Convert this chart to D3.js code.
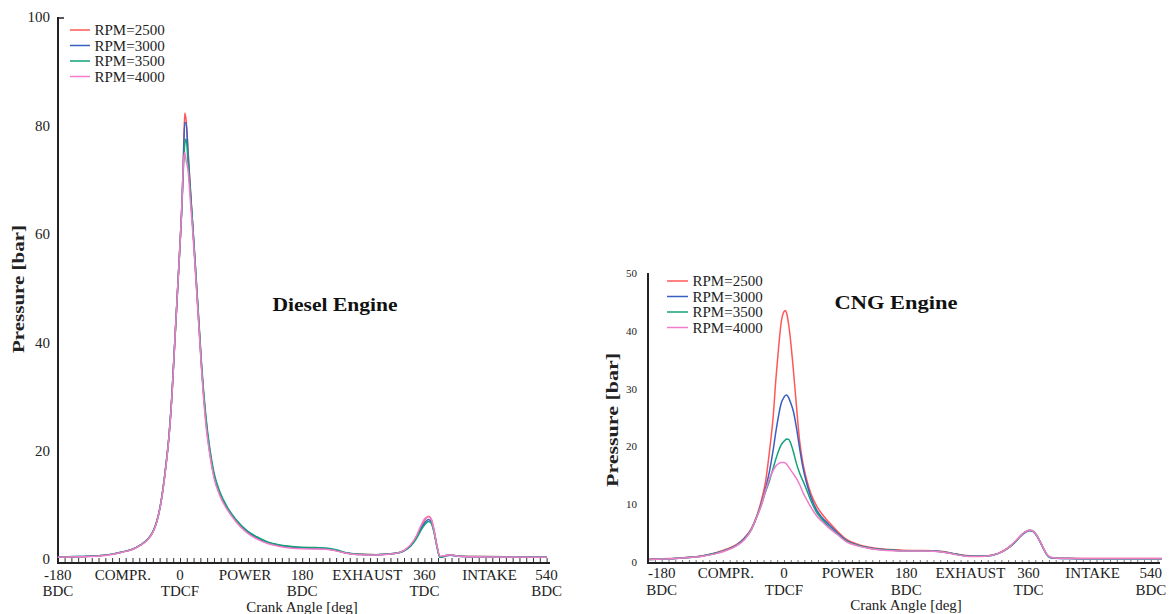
<!DOCTYPE html>
<html>
<head>
<meta charset="utf-8">
<script src="https://cdn.jsdelivr.net/npm/d3@7"></script>
<style>
body { margin: 0; background: #fff; }
svg { display: block; }
</style>
</head>
<body>
<svg width="1172" height="614"></svg>
<script>

// ---- data ----

const rpm_labels = ["RPM=2500", "RPM=3000", "RPM=3500", "RPM=4000"];

const angle_ticks = [-180, 0, 180, 360, 540];
const angle_tick_values = ["-180", "0", "180", "360", "540"];
const angle_tick_names = ["BDC", "TDCF", "BDC", "TDC", "BDC"];

const stroke_angles = [-90, 90, 270, 450];
const stroke_names = ["COMPR.", "POWER", "EXHAUST", "INTAKE"];

const diesel_pressure_ticks = [0, 20, 40, 60, 80, 100];
const cng_pressure_ticks = [0, 10, 20, 30, 40, 50];

const diesel_angle = [-180, -150, -120, -100, -85, -70, -58, -48, -40, -34, -29, -25, -21, -16, -12, -9, -6, -3, 0,
    3, 5, 7, 9, 12, 15, 19, 22, 25, 28, 32, 38, 44, 50, 59, 70, 83, 98, 113, 130, 147, 165, 180,
    200, 215, 230, 245, 260, 290, 315, 330, 340, 348, 355, 361, 366, 370, 374, 378, 383, 390, 398, 410, 440, 480, 540];

const diesel_2500 = [0.3, 0.4, 0.6, 0.9, 1.3, 1.8, 2.6, 3.6, 5.0, 7.0, 9.8, 13, 17, 23, 30, 37, 44, 51, 58,
    66, 74, 82.3, 81, 75, 69, 61, 55, 49, 43, 35, 25.5, 19.5, 15.3, 11.8, 9.2, 7.0, 5.1, 3.9, 3.0, 2.5, 2.2, 2.0,
    1.95, 1.9, 1.6, 1.1, 0.9, 0.8, 1.0, 1.6, 2.6, 4.1, 6.0, 7.3, 7.9, 7.4, 5.5, 2.8, 0.4, 0.5, 0.8, 0.5, 0.45, 0.4, 0.35];

const diesel_3000 = [0.35, 0.45, 0.6, 0.9, 1.3, 1.8, 2.6, 3.6, 5.0, 7.0, 9.8, 13, 17, 23, 30, 37, 44, 51, 58,
    66, 73.5, 80.5, 80.5, 74.5, 68.5, 61, 55, 49, 43, 35, 26, 19.8, 15.5, 12.0, 9.3, 7.1, 5.2, 4.0, 3.0, 2.5, 2.2, 2.05,
    2.0, 1.9, 1.55, 1.1, 0.85, 0.8, 1.0, 1.5, 2.5, 3.9, 5.6, 6.8, 7.3, 6.9, 5.2, 2.6, 0.3, 0.5, 0.7, 0.5, 0.4, 0.4, 0.35];

const diesel_3500 = [0.35, 0.45, 0.6, 0.9, 1.3, 1.8, 2.6, 3.6, 5.0, 7.0, 9.8, 13, 17, 23, 30, 37, 44, 51, 58,
    65.5, 72, 76.5, 77.5, 73, 68, 61, 55.5, 49.5, 43.5, 35.5, 26.5, 20.3, 16, 12.3, 9.5, 7.2, 5.3, 4.1, 3.1, 2.6, 2.3, 2.15,
    2.1, 2.05, 1.7, 1.15, 0.9, 0.8, 1.0, 1.5, 2.4, 3.7, 5.3, 6.4, 6.9, 6.6, 5.0, 2.5, 0.3, 0.6, 0.8, 0.5, 0.45, 0.4, 0.35];

const diesel_4000 = [0.3, 0.4, 0.55, 0.85, 1.25, 1.75, 2.55, 3.5, 4.9, 6.9, 9.7, 12.8, 16.8, 22.8, 29.8, 36.8, 44, 51, 58,
    66, 73, 75, 73.5, 71.5, 66.5, 60, 54.5, 48.5, 42.5, 34.5, 25, 19.2, 15.0, 11.6, 9.0, 6.8, 4.9, 3.7, 2.8, 2.3, 2.0, 1.9,
    1.85, 1.8, 1.5, 1.05, 0.85, 0.75, 0.95, 1.6, 2.7, 4.2, 6.2, 7.5, 7.8, 7.3, 5.4, 2.7, 0.5, 0.6, 0.8, 0.5, 0.4, 0.35, 0.3];

const cng_angle = [-198, -180, -150, -120, -100, -85, -70, -58, -48, -40, -33, -27, -21, -16, -12, -8, -4, 0,
    2, 4, 7, 10, 14, 18, 23, 28, 33, 40, 48, 56, 66, 78, 92, 110, 128, 146, 165, 185,
    205, 220, 235, 250, 265, 280, 300, 315, 330, 340, 348, 355, 361, 366, 371, 376, 381, 386, 392, 400, 420, 460, 500, 540, 556];

const cng_2500 = [0.5, 0.55, 0.75, 1.1, 1.6, 2.2, 3.0, 4.2, 5.8, 8.0, 10.8, 14.0, 19.5, 25, 31.5, 37, 41.5, 43.3,
    43.5, 43.0, 41, 38, 33, 27.5, 21, 17, 14.4, 11.7, 9.7, 8.3, 6.9, 5.4, 3.9, 3.0, 2.5, 2.25, 2.1, 2.0,
    2.0, 1.95, 1.8, 1.45, 1.15, 1.05, 1.1, 1.5, 2.5, 3.5, 4.5, 5.2, 5.5, 5.4, 4.8, 3.8, 2.6, 1.5, 0.8, 0.7, 0.65, 0.6, 0.6, 0.6, 0.6];

const cng_3000 = [0.45, 0.5, 0.7, 1.05, 1.55, 2.1, 2.9, 4.1, 5.7, 7.8, 10.2, 12.8, 15.9, 19.3, 22.5, 25.3, 27.5, 28.5,
    28.8, 28.9, 28.4, 27.5, 26.0, 23.5, 19.7, 16.3, 13.8, 11.1, 9.0, 7.7, 6.5, 5.1, 3.7, 2.85, 2.4, 2.15, 2.0, 1.95,
    1.95, 1.9, 1.75, 1.4, 1.1, 1.0, 1.05, 1.45, 2.4, 3.4, 4.4, 5.1, 5.4, 5.3, 4.7, 3.7, 2.5, 1.4, 0.75, 0.65, 0.6, 0.55, 0.55, 0.55, 0.55];

const cng_3500 = [0.45, 0.5, 0.7, 1.05, 1.5, 2.05, 2.85, 4.0, 5.6, 7.9, 10.0, 12.2, 14.2, 16.2, 17.8, 19.2, 20.3, 20.9,
    21.1, 21.3, 21.2, 20.5, 19.0, 17.2, 15.4, 14.0, 12.6, 10.5, 8.6, 7.4, 6.1, 4.9, 3.6, 2.8, 2.35, 2.1, 2.0, 1.95,
    1.95, 1.9, 1.75, 1.4, 1.1, 1.0, 1.05, 1.45, 2.4, 3.4, 4.5, 5.2, 5.5, 5.4, 4.8, 3.8, 2.6, 1.5, 0.8, 0.7, 0.6, 0.55, 0.55, 0.55, 0.55];

const cng_4000 = [0.45, 0.5, 0.7, 1.0, 1.45, 2.0, 2.8, 3.9, 5.6, 7.8, 9.9, 12.4, 14.5, 15.8, 16.6, 17.0, 17.2, 17.2,
    17.1, 16.9, 16.4, 15.9, 15.2, 14.5, 13.4, 12.0, 10.9, 9.4, 8.0, 7.0, 5.9, 4.8, 3.5, 2.75, 2.3, 2.05, 1.95, 1.9,
    1.9, 1.85, 1.7, 1.35, 1.05, 0.95, 1.05, 1.45, 2.45, 3.5, 4.5, 5.2, 5.5, 5.4, 4.8, 3.8, 2.6, 1.5, 0.85, 0.7, 0.6, 0.6, 0.6, 0.6, 0.6];


const vis = {

    refs : {

        svg : "svg"

    },

    sels : {

        svg : null

    },

    params : {

        font : '"Liberation Serif", "Times New Roman", serif',
        colors : ["#ff5757", "#3a5fc2", "#13a17a", "#f17cc9"],
        ink : "#222",

        panels : [

            {
                name : "Diesel Engine",
                angle : diesel_angle,
                series : [diesel_2500, diesel_3000, diesel_3500, diesel_4000],
                y_ticks : diesel_pressure_ticks,
                y_domain : [0, 100],
                y_range : [559, 17],
                x_range : [57.8, 546.6],
                axis_x : 58,
                axis_top : 17,
                base_y : 563,
                x_line : [58, 550],
                minor : [-180, 540],
                minor_len : 5,
                minor_color : "#333",
                top_tick : 6,
                y_font : 15,
                y_pad : 8,
                y_title : { x : 18, y : 289, len : 128 },
                title_pos : { x : 335, y : 305, len : 125 },
                legend : { x : 70, y : 30, gap : 15.5, line : 20 },
                rows : [575, 591, 607],
                x_title : 302,
                stroke_shift : 4
            },

            {
                name : "CNG Engine",
                angle : cng_angle,
                series : [cng_2500, cng_3000, cng_3500, cng_4000],
                y_ticks : cng_pressure_ticks,
                y_domain : [0, 50],
                y_range : [562, 273],
                x_range : [661.7, 1150.8],
                axis_x : 648,
                axis_top : 273,
                base_y : 563,
                x_line : [648, 1160],
                minor : [-190, 550],
                minor_len : 3,
                minor_color : "#777",
                top_tick : 0,
                y_font : 11,
                y_pad : 11,
                y_title : { x : 612, y : 420, len : 134 },
                title_pos : { x : 896, y : 303, len : 123 },
                legend : { x : 667, y : 281, gap : 15.5, line : 21 },
                rows : [573, 590, 605],
                x_title : 906,
                stroke_shift : 3
            }

        ]

    },

    render : {

        panel : function(p) {

            const svg = vis.sels.svg;
            const ink = vis.params.ink;
            const font = vis.params.font;

            const x = d3.scaleLinear().domain([-180, 540]).range(p.x_range);
            const y = d3.scaleLinear().domain(p.y_domain).range(p.y_range);

            const g = svg.append("g").attr("font-family", font);

            // little ticks every 10 deg, pointing up
            g.append("g")
              .attr("transform", `translate(0,${p.base_y})`)
              .call(d3.axisTop(x)
                .tickValues(d3.range(p.minor[0], p.minor[1] + 1, 10))
                .tickSize(p.minor_len)
                .tickFormat(""))
              .call(a => a.select(".domain").remove())
              .selectAll("line")
              .attr("stroke", p.minor_color)
              .attr("stroke-width", 1);

            // axis lines
            g.append("line")
              .attr("x1", p.x_line[0]).attr("x2", p.x_line[1])
              .attr("y1", p.base_y).attr("y2", p.base_y)
              .attr("stroke", ink).attr("stroke-width", 2);

            g.append("line")
              .attr("x1", p.axis_x).attr("x2", p.axis_x)
              .attr("y1", p.axis_top).attr("y2", p.base_y + 1)
              .attr("stroke", ink).attr("stroke-width", 2);

            if (p.top_tick) {

                g.append("line")
                  .attr("x1", p.axis_x).attr("x2", p.axis_x + p.top_tick)
                  .attr("y1", p.axis_top + 1).attr("y2", p.axis_top + 1)
                  .attr("stroke", ink).attr("stroke-width", 1.5);

            }

            // pressure labels
            g.append("g")
              .attr("transform", `translate(${p.axis_x},0)`)
              .call(d3.axisLeft(y).tickValues(p.y_ticks).tickSize(0).tickPadding(p.y_pad))
              .call(a => a.select(".domain").remove())
              .selectAll("text")
              .attr("font-family", font)
              .attr("font-size", p.y_font)
              .attr("fill", ink);

            // curves
            const line = d3.line()
              .x((d, i) => x(p.angle[i]))
              .y(d => y(d))
              .curve(d3.curveMonotoneX);

            g.selectAll("path.rpm")
              .data(p.series)
              .join("path")
              .classed("rpm", true)
              .attr("d", line)
              .attr("fill", "none")
              .attr("stroke", (d, i) => vis.params.colors[i])
              .attr("stroke-width", 1.5);

            // labels under the axis
            g.selectAll("text.num")
              .data(angle_ticks)
              .join("text")
              .classed("num", true)
              .attr("x", d => x(d))
              .attr("y", p.rows[0])
              .attr("dy", "0.35em")
              .attr("text-anchor", "middle")
              .attr("font-size", 15)
              .attr("fill", ink)
              .text((d, i) => angle_tick_values[i]);

            g.selectAll("text.pos")
              .data(angle_ticks)
              .join("text")
              .classed("pos", true)
              .attr("x", d => x(d))
              .attr("y", p.rows[1])
              .attr("dy", "0.35em")
              .attr("text-anchor", "middle")
              .attr("font-size", 15)
              .attr("fill", ink)
              .text((d, i) => angle_tick_names[i]);

            g.selectAll("text.stroke")
              .data(stroke_angles)
              .join("text")
              .classed("stroke", true)
              .attr("x", d => x(d) + p.stroke_shift)
              .attr("y", p.rows[0])
              .attr("dy", "0.35em")
              .attr("text-anchor", "middle")
              .attr("font-size", 15)
              .attr("fill", ink)
              .text((d, i) => stroke_names[i]);

            g.append("text")
              .attr("x", p.x_title)
              .attr("y", p.rows[2])
              .attr("dy", "0.35em")
              .attr("text-anchor", "middle")
              .attr("font-size", 15)
              .attr("fill", ink)
              .text("Crank Angle [deg]");

            // y title
            g.append("text")
              .attr("transform", `translate(${p.y_title.x},${p.y_title.y}) rotate(-90)`)
              .attr("dy", "0.35em")
              .attr("text-anchor", "middle")
              .attr("font-size", 17)
              .attr("font-weight", "bold")
              .attr("textLength", p.y_title.len)
              .attr("lengthAdjust", "spacingAndGlyphs")
              .attr("fill", ink)
              .text("Pressure [bar]");

            // engine title
            g.append("text")
              .attr("x", p.title_pos.x)
              .attr("y", p.title_pos.y)
              .attr("dy", "0.35em")
              .attr("text-anchor", "middle")
              .attr("font-size", 18)
              .attr("font-weight", "bold")
              .attr("textLength", p.title_pos.len)
              .attr("lengthAdjust", "spacingAndGlyphs")
              .attr("fill", "#111")
              .text(p.name);

            // legend
            const leg = g.append("g")
              .attr("transform", `translate(${p.legend.x},${p.legend.y})`);

            const items = leg.selectAll("g")
              .data(rpm_labels)
              .join("g")
              .attr("transform", (d, i) => `translate(0,${i * p.legend.gap})`);

            items.append("line")
              .attr("x1", 0).attr("x2", p.legend.line)
              .attr("stroke", (d, i) => vis.params.colors[i])
              .attr("stroke-width", 1.5);

            items.append("text")
              .attr("x", p.legend.line + 4.5)
              .attr("dy", "0.35em")
              .attr("font-size", 15)
              .attr("fill", ink)
              .text(d => d);

        }

    },

    control : {

        initialize_selections : function() {

            const refs = Object.keys(vis.refs);

            refs.forEach(referencia => {

                vis.sels[referencia] = d3.select(vis.refs[referencia]);

            })

        },

        init : function() {

            vis.control.initialize_selections();

            vis.params.panels.forEach(p => vis.render.panel(p));

        }

    }

}

vis.control.init();
</script>
</body>
</html>
